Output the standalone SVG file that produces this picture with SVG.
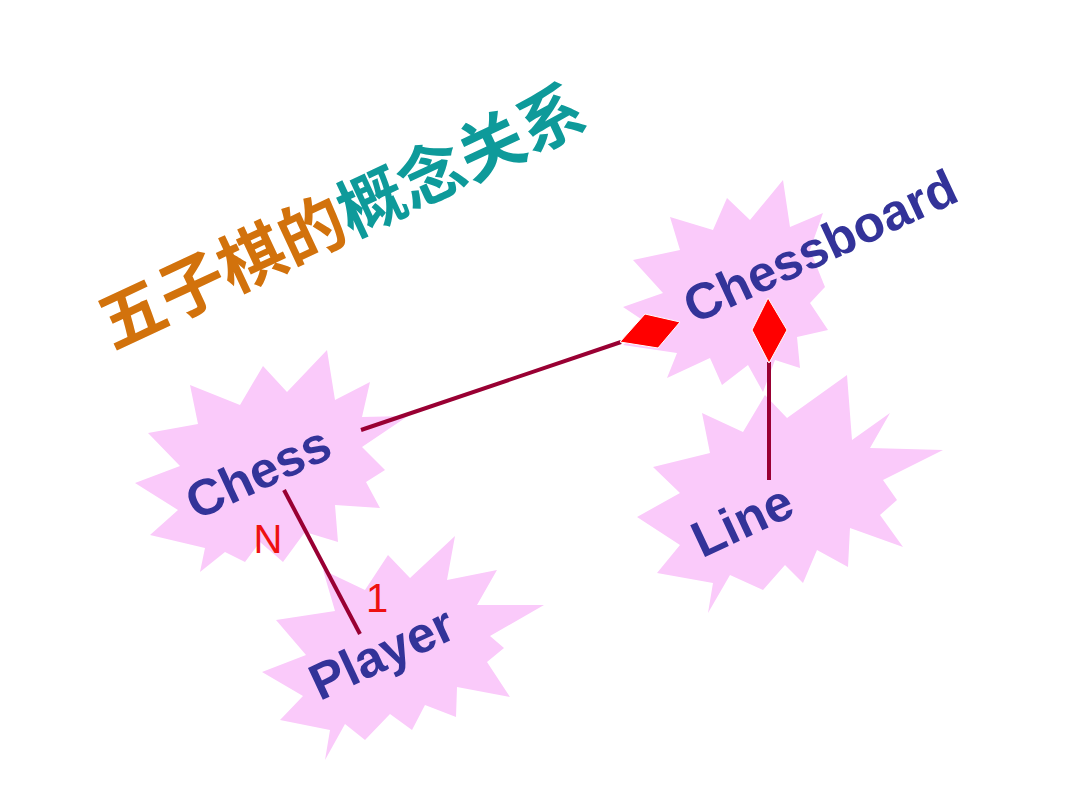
<svg xmlns="http://www.w3.org/2000/svg" width="1080" height="810" viewBox="0 0 1080 810">
<style>
.star{fill:#FACAFA;stroke:none}
.lbl{font-family:"Liberation Sans",Arial,sans-serif;font-weight:bold;font-size:51px;fill:#333399;text-anchor:middle}
.conn{stroke:#990033;stroke-width:4;fill:none}
.dia{fill:#FF0000;stroke:#ffffff;stroke-width:1}
.mult{font-family:"Liberation Sans",Arial,sans-serif;font-size:40px;fill:#EE1111;text-anchor:middle}
.title{font-family:"Noto Sans CJK SC","Noto Sans CJK TC",sans-serif;font-weight:bold;font-size:66px;text-anchor:middle}
</style>
<rect width="1080" height="810" fill="#ffffff"/>
<g id="title" transform="translate(342,217) rotate(-25)">
<text class="title" x="0" y="23"><tspan fill="#D2720C">五子棋的</tspan><tspan fill="#0E9A9A">概念关系</tspan></text>
</g>
<g id="node-line">
<polygon class="star" points="847,375 852,440 890,413 870,448 943,450 883,480 897,500 880,515 903,547 850,528 848,567 817,550 803,583 785,565 763,590 730,575 708,613 713,583 657,573 680,545 637,517 680,493 653,467 710,453 702,413 743,432 765,395 787,418"/>
<g transform="translate(742,520) rotate(-25)"><text class="lbl" x="0" y="18">Line</text></g>
</g>
<g id="node-chessboard">
<polygon class="star" points="783,180 790,227 823,213 810,250 825,287 810,303 828,330 797,337 800,368 775,360 763,392 748,365 722,385 710,358 667,378 677,353 623,345 650,325 623,307 663,293 633,260 680,250 670,217 713,230 727,198 750,220"/>
<g transform="translate(820,246) rotate(-25)"><text class="lbl" x="0" y="18">Chessboard</text></g>
</g>
<g id="node-chess">
<polygon class="star" points="327,350 335,400 370,382 362,417 408,416 362,447 385,470 366,482 380,508 335,505 338,542 305,532 283,562 260,542 245,562 225,552 200,572 205,548 150,535 178,510 135,483 180,466 148,433 198,424 190,385 240,405 263,366 287,392"/>
<g transform="translate(258,472) rotate(-25)"><text class="lbl" x="0" y="18">Chess</text></g>
</g>
<g id="node-player">
<polygon class="star" points="455,536 447,580 497,570 477,605 544,605 490,636 504,648 487,662 510,697 457,687 456,717 425,705 412,730 390,714 365,740 345,724 325,760 330,730 280,720 303,696 262,672 306,655 276,620 335,611 323,570 365,590 388,555 410,578"/>
<g transform="translate(384,658) rotate(-25)"><text class="lbl" x="0" y="12">Player</text></g>
</g>
<g id="connectors">
<line class="conn" x1="361" y1="430" x2="621" y2="342"/>
<polygon class="dia" points="620,342 645,314 680,322 658,348"/>
<line class="conn" x1="769" y1="480" x2="769" y2="362"/>
<polygon class="dia" points="768,298 787,330 769,363 752,330"/>
<line class="conn" x1="284" y1="490" x2="360" y2="634"/>
<text class="mult" x="268" y="553">N</text>
<text class="mult" x="377" y="612">1</text>
</g>
</svg>
